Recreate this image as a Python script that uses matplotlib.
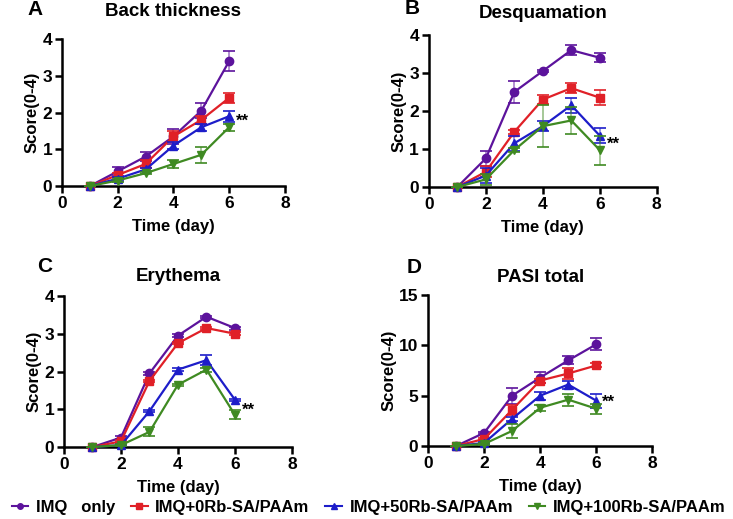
import matplotlib.pyplot as plt
from matplotlib.lines import Line2D

plt.rcParams['font.family'] = ['Liberation Sans', 'DejaVu Sans']
plt.rcParams['font.weight'] = 'bold'

days = [1, 2, 3, 4, 5, 6]
groups = ["IMQ   only", "IMQ+0Rb-SA/PAAm", "IMQ+50Rb-SA/PAAm", "IMQ+100Rb-SA/PAAm"]
colors = ["#5c139c", "#e02027", "#1d1dc9", "#3f8a22"]
markers = ["o", "s", "^", "v"]

# Back thickness
back_mean = [
    [0, 0.40, 0.80, 1.35, 2.05, 3.40],
    [0, 0.30, 0.60, 1.35, 1.80, 2.40],
    [0, 0.20, 0.45, 1.10, 1.60, 1.90],
    [0, 0.15, 0.35, 0.60, 0.85, 1.60],
]
back_err = [
    [0, 0.13, 0.13, 0.20, 0.20, 0.28],
    [0, 0.05, 0.10, 0.15, 0.10, 0.13],
    [0, 0.05, 0.05, 0.10, 0.10, 0.15],
    [0, 0.03, 0.03, 0.12, 0.22, 0.10],
]

# Desquamation
desq_mean = [
    [0, 0.75, 2.50, 3.05, 3.60, 3.40],
    [0, 0.40, 1.45, 2.30, 2.60, 2.35],
    [0, 0.30, 1.15, 1.60, 2.15, 1.35],
    [0, 0.20, 0.97, 1.60, 1.75, 0.97],
]
desq_err = [
    [0, 0.20, 0.28, 0.03, 0.13, 0.12],
    [0, 0.15, 0.05, 0.13, 0.13, 0.20],
    [0, 0.20, 0.20, 0.13, 0.20, 0.20],
    [0, 0.15, 0.05, 0.55, 0.35, 0.38],
]

# Erythema
ery_mean = [
    [0, 0.25, 1.95, 2.95, 3.45, 3.15],
    [0, 0.15, 1.75, 2.75, 3.15, 3.00],
    [0, 0.05, 0.95, 2.05, 2.30, 1.25],
    [0, 0.05, 0.40, 1.65, 2.05, 0.85],
]
ery_err = [
    [0, 0.03, 0.03, 0.03, 0.03, 0.04],
    [0, 0.03, 0.03, 0.03, 0.03, 0.04],
    [0, 0.02, 0.03, 0.03, 0.13, 0.03],
    [0, 0.02, 0.12, 0.03, 0.05, 0.12],
]

# PASI total
pasi_mean = [
    [0, 1.3, 5.0, 6.8, 8.5, 10.1],
    [0, 0.7, 3.6, 6.5, 7.2, 8.0],
    [0, 0.3, 2.7, 5.0, 6.1, 4.5],
    [0, 0.2, 1.5, 3.8, 4.6, 3.7],
]
pasi_err = [
    [0, 0.1, 0.8, 0.5, 0.4, 0.6],
    [0, 0.1, 0.5, 0.2, 0.5, 0.2],
    [0, 0.1, 0.2, 0.4, 0.4, 0.7],
    [0, 0.1, 0.7, 0.3, 0.6, 0.5],
]

panels = [
    ("A", "Back thickness", back_mean, back_err, 4, 1, (6.25, 1.75)),
    ("B", "Desquamation", desq_mean, desq_err, 4, 1, (6.25, 1.13)),
    ("C", "Erythema", ery_mean, ery_err, 4, 1, (6.25, 0.98)),
    ("D", "PASI total", pasi_mean, pasi_err, 15, 5, (6.2, 4.35)),
]

# axes rectangles in figure fractions
rects = [
    [0.0846, 0.6416, 0.304, 0.283],
    [0.585, 0.6397, 0.311, 0.293],
    [0.0873, 0.1387, 0.311, 0.291],
    [0.584, 0.1407, 0.306, 0.291],
]
title_pad = [17, 12, 11, 9]
letter_pos = [(0.038, 0.982), (0.552, 0.984), (0.050, 0.486), (0.555, 0.484)]

fig = plt.figure(figsize=(7.33, 5.19), dpi=100)

for (letter, title, means, errs, ymax, ystep, star), rect, pad, lp in zip(panels, rects, title_pad, letter_pos):
    ax = fig.add_axes(rect)
    for i in range(4):
        ax.errorbar(days, means[i], yerr=errs[i], color=colors[i], marker=markers[i],
                    markersize=6, linewidth=1.6, ecolor=colors[i], elinewidth=1.2,
                    capsize=4, capthick=1.2, clip_on=False, zorder=3 + i)
    # lighter error bars like the original
    for line in ax.collections:
        line.set_alpha(0.55)
    ax.set_xlim(0, 8)
    ax.set_ylim(0, ymax)
    ax.set_xticks([0, 2, 4, 6, 8])
    ax.set_yticks(range(0, ymax + 1, ystep))
    ax.spines['top'].set_visible(False)
    ax.spines['right'].set_visible(False)
    ax.spines['left'].set_linewidth(1.8)
    ax.spines['bottom'].set_linewidth(1.8)
    ax.tick_params(width=1.8, length=5, labelsize=12.5, pad=2)
    for lab in ax.get_xticklabels() + ax.get_yticklabels():
        lab.set_fontweight('bold')
    ax.set_xlabel("Time (day)", fontsize=12, fontweight='bold', labelpad=6)
    ax.set_ylabel("Score(0-4)", fontsize=12, fontweight='bold', labelpad=2)
    ax.set_title(title, fontsize=13.5, fontweight='bold', pad=pad)
    ax.text(star[0], star[1], "**", fontsize=12, fontweight='bold', va='center', ha='left')
    fig.text(lp[0], lp[1], letter, fontsize=15, fontweight='bold', va='center', ha='left')

handles = [Line2D([0], [0], color=c, marker=m, markersize=4, linewidth=1.5)
           for c, m in zip(colors, markers)]
fig.legend(handles, groups, loc='center', bbox_to_anchor=(0.503, 0.023), ncol=4,
           frameon=False, handlelength=1.0, handletextpad=0.45, columnspacing=0.95,
           borderaxespad=0, borderpad=0, prop={'weight': 'bold', 'size': 12})

fig.savefig("out.png", dpi=100)
